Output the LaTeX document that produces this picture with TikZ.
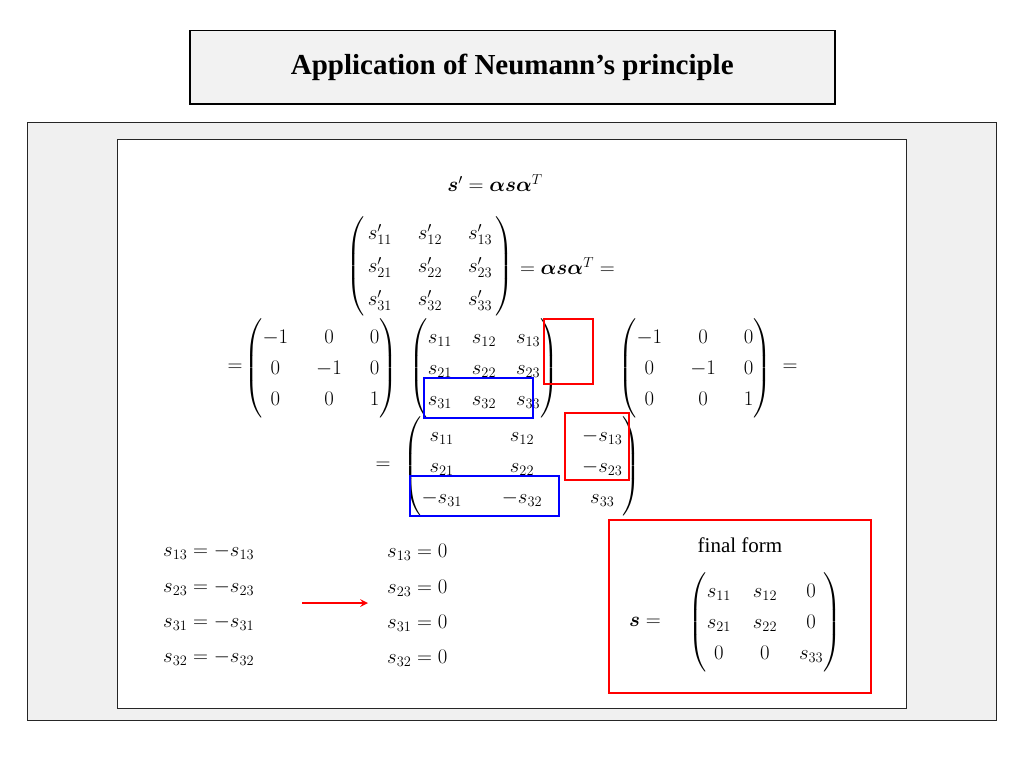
\documentclass[tikz,border=0pt]{standalone}
\usepackage{amsmath,bm}
\usepackage{fontspec}
\setmainfont{Liberation Serif}
\begin{document}
\begin{tikzpicture}[x=1pt,y=-1pt,
  eq/.style={inner sep=0pt,font=\fontsize{22}{31}\selectfont},
  sm/.style={inner sep=0pt,font=\fontsize{21}{33}\selectfont},
  redbox/.style={draw=red,line width=1.6pt},
  bluebox/.style={draw=blue,line width=1.6pt}]
\useasboundingbox (0,0) rectangle (1024,768);
\fill[white] (0,0) rectangle (1024,768);
\node[draw,line width=1.5pt,fill=gray!10,minimum width=645pt,minimum height=73pt,anchor=north west,
  font=\bfseries\fontsize{29}{33}\selectfont] (title) at (189,30) {Application of Neumann’s principle};
\node[draw=black!85,line width=1.2pt,fill=gray!12,minimum width=969pt,minimum height=598pt,anchor=north west] (outer) at (27,122) {};
\node[draw=black!85,line width=1.2pt,fill=white,minimum width=789pt,minimum height=569pt,anchor=north west] (inner) at (117,139) {};
\node[eq] (e1) at (495,183) {$\bm{s}'=\bm{\alpha s\alpha}^{T}$};
\node[sm] (e2) at (430,266) {\setlength\arraycolsep{13pt}$\left(\begin{array}{@{\,}ccc@{\,}} s'_{11} & s'_{12} & s'_{13}\\ s'_{21} & s'_{22} & s'_{23}\\ s'_{31} & s'_{32} & s'_{33}\end{array}\right)$};
\node[eq,anchor=west] (e2b) at (e2.east) {$\;=\bm{\alpha s\alpha}^{T}=$};
\node[eq] (q3) at (235,368) {$=$};
\node[eq] (m1) at (321,368) {\setlength\arraycolsep{14pt}$\left(\begin{array}{@{}ccc@{}} -1 & 0 & 0\\ 0 & -1 & 0\\ 0 & 0 & 1\end{array}\right)$};
\node[eq] (m2) at (484,368) {\setlength\arraycolsep{10pt}$\left(\begin{array}{@{}ccc@{}} s_{11} & s_{12} & s_{13}\\ s_{21} & s_{22} & s_{23}\\ s_{31} & s_{32} & s_{33}\end{array}\right)$};
\node[eq] (m3) at (695,368) {\setlength\arraycolsep{14pt}$\left(\begin{array}{@{}ccc@{}} -1 & 0 & 0\\ 0 & -1 & 0\\ 0 & 0 & 1\end{array}\right)$};
\node[eq] (q3b) at (790,368) {$=$};
\node[eq] (q4) at (383,466) {$=$};
\node[eq] (m4) at (522,466) {\setlength\arraycolsep{20pt}$\left(\begin{array}{@{}ccc@{}} s_{11} & s_{12} & -s_{13}\\ s_{21} & s_{22} & -s_{23}\\ -s_{31} & -s_{32} & s_{33}\end{array}\right)$};
\draw[redbox] (544,319) rectangle (593,384);
\draw[bluebox] (424,378) rectangle (533,418);
\draw[redbox] (565,413) rectangle (629,480);
\draw[bluebox] (410,476) rectangle (559,516);
\node[eq,anchor=west] (l1) at (163,552) {$s_{13}=-s_{13}$};
\node[eq,anchor=west] (l2) at (163,588) {$s_{23}=-s_{23}$};
\node[eq,anchor=west] (l3) at (163,623) {$s_{31}=-s_{31}$};
\node[eq,anchor=west] (l4) at (163,658) {$s_{32}=-s_{32}$};
\node[eq,anchor=west] (r1) at (387,552) {$s_{13}=0$};
\node[eq,anchor=west] (r2) at (387,588) {$s_{23}=0$};
\node[eq,anchor=west] (r3) at (387,623) {$s_{31}=0$};
\node[eq,anchor=west] (r4) at (387,658) {$s_{32}=0$};
\coordinate (a1) at (302,603); \coordinate (a2) at (368,603);
\draw[red,line width=2.4pt,-stealth] (a1) -- (a2);
\node[redbox,minimum width=262pt,minimum height=173pt,anchor=north west] (fbox) at (608,519) {};
\node[font=\fontsize{21}{25}\selectfont] (ff) at (740,545) {final form};
\node[eq] (fs) at (645,622) {$\bm{s}=$};
\node[eq] (fm) at (765,622) {\setlength\arraycolsep{11pt}$\left(\begin{array}{@{}ccc@{}} s_{11} & s_{12} & 0\\ s_{21} & s_{22} & 0\\ 0 & 0 & s_{33}\end{array}\right)$};
\end{tikzpicture}
\end{document}
